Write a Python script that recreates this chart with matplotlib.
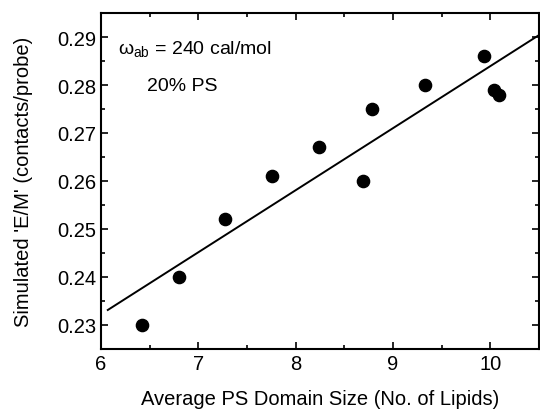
import matplotlib
matplotlib.use('Agg')
import matplotlib.pyplot as plt
from matplotlib.ticker import MultipleLocator

plt.rcParams['font.family'] = ['Liberation Sans', 'DejaVu Sans']
plt.rcParams['mathtext.fontset'] = 'custom'
plt.rcParams['mathtext.rm'] = 'Liberation Sans'

# domain size vs simulated E/M
domain_size = [6.42, 6.80, 7.27, 7.76, 8.24, 8.69, 8.78, 9.33, 9.94, 10.04, 10.09]
em_ratio = [0.230, 0.240, 0.252, 0.261, 0.267, 0.260, 0.275, 0.280, 0.286, 0.279, 0.278]

# linear fit line endpoints
fit_x = [6.07, 10.5]
fit_y = [0.2331, 0.2904]

fig = plt.figure(figsize=(5.4, 4.14), dpi=100)
ax = fig.add_axes([0.187, 0.155, 0.811, 0.811])

ax.plot(domain_size, em_ratio, 'o', color='black', markersize=8.8)
ax.plot(fit_x, fit_y, '-', color='black', linewidth=1.4)

ax.set_xlim(6, 10.5)
ax.set_ylim(0.225, 0.295)
ax.xaxis.set_major_locator(MultipleLocator(1))
ax.xaxis.set_minor_locator(MultipleLocator(0.5))
ax.yaxis.set_major_locator(MultipleLocator(0.01))
ax.yaxis.set_minor_locator(MultipleLocator(0.005))
ax.tick_params(which='both', direction='in', top=True, right=True, width=1.2, labelsize=14.5)
ax.tick_params(which='major', length=5)
ax.tick_params(which='minor', length=3)
for s in ax.spines.values():
    s.set_linewidth(1.5)

ax.set_xlabel('Average PS Domain Size (No. of Lipids)', fontsize=14.5, labelpad=12)
ax.set_ylabel("Simulated 'E/M' (contacts/probe)", fontsize=14.5, labelpad=17)

ax.text(0.04, 0.88, r'$\mathrm{\omega_{ab}}$ = 240 cal/mol', transform=ax.transAxes, fontsize=14)
ax.text(0.105, 0.77, '20% PS', transform=ax.transAxes, fontsize=14)

fig.savefig('out.png', dpi=100)
